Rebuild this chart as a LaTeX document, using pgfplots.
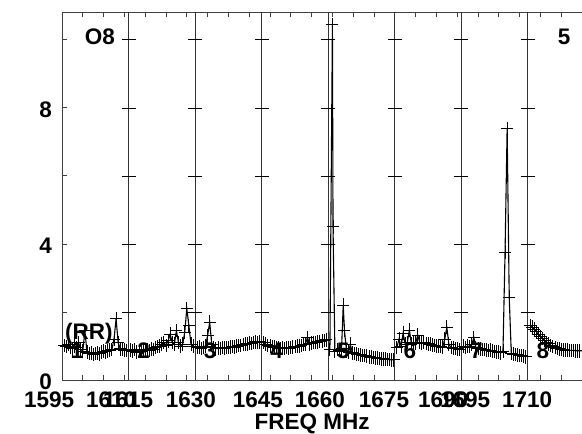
\documentclass[border=0pt]{standalone}
\usepackage{fontspec}
\setmainfont{Liberation Sans}
\usepackage{pgfplots}
\pgfplotsset{compat=1.18}
\newcommand\lf{\fontsize{22.5}{23}\selectfont\bfseries}
\pgfplotsset{
  spec/.style={black, line width=1.1pt, mark=-, mark size=6pt,
    mark options={line width=0.9pt},
    error bars/.cd, y dir=both, y fixed=0.2, error mark=none,
    error bar style={line width=0.9pt}},
}
\tikzset{
  fl/.style={font=\lf, anchor=base, inner sep=0pt, yshift=-28pt},
  pn/.style={font=\lf, anchor=base, inner sep=0pt},
}
\begin{document}
\begin{tikzpicture}
\begin{axis}[
  at={(62pt,54pt)}, anchor=south west,
  scale only axis, width=532.5pt, height=368pt,
  xmin=1600, xmax=1728, ymin=0, ymax=10.82,
  clip=false,
  axis line style={black!75, line width=0.9pt},
  tick align=inside,
  major tick length=5pt,
  tick style={black!75, line width=0.9pt},
  xtick={1600,1605,...,1725}, xticklabels={},
  ytick={0,2,...,10}, yticklabels={0,,4,,8,}, ytick pos=left,
  yticklabel style={font=\lf, inner sep=0pt, xshift=-10pt, yshift=-2pt},
]
% panel dividers and their cross ticks
\addplot[ycomb, black!80, line width=0.9pt, no marks] coordinates {
  (1616,10.82) (1632,10.82) (1648,10.82) (1664,10.82) (1680,10.82) (1696,10.82) (1712,10.82)};
\addplot[only marks, mark=-, mark size=7pt, black, mark options={line width=0.8pt}] coordinates {
  (1616,2) (1616,4) (1616,6) (1616,8) (1616,10)
  (1632,2) (1632,4) (1632,6) (1632,8) (1632,10)
  (1648,2) (1648,4) (1648,6) (1648,8) (1648,10)
  (1664,2) (1664,4) (1664,6) (1664,8) (1664,10)
  (1680,2) (1680,4) (1680,6) (1680,8) (1680,10)
  (1696,2) (1696,4) (1696,6) (1696,8) (1696,10)
  (1712,2) (1712,4) (1712,6) (1712,8) (1712,10)};

% IF 1
\addplot[spec] coordinates {
 (1600.5,1.02) (1601.0,0.98) (1601.5,1.05) (1602.0,0.95) (1602.5,0.92) (1603.0,1.00)
 (1603.5,0.95) (1604.0,1.10) (1604.5,0.90) (1605.0,0.85) (1605.5,1.45) (1606.0,0.82)
 (1606.5,0.78) (1607.0,0.80) (1607.5,0.75) (1608.0,0.78) (1608.5,0.80) (1609.0,0.77)
 (1609.5,0.82) (1610.0,0.85) (1610.5,0.83) (1611.0,0.86) (1611.5,0.88) (1612.0,0.90)
 (1612.5,1.20) (1613.0,1.80) (1613.5,1.10) (1614.0,0.92) (1614.5,0.90) (1615.0,0.88)
 (1615.5,0.87)};
% IF 2
\addplot[spec] coordinates {
 (1616.5,0.88) (1617.0,0.85) (1617.5,0.90) (1618.0,0.82) (1618.5,0.87) (1619.0,0.84)
 (1619.5,0.86) (1620.0,0.88) (1620.5,0.90) (1621.0,0.87) (1621.5,0.92) (1622.0,0.90)
 (1622.5,0.95) (1623.0,0.98) (1623.5,1.00) (1624.0,1.05) (1624.5,1.10) (1625.0,1.02)
 (1625.5,1.15) (1626.0,1.35) (1626.5,1.10) (1627.0,1.05) (1627.5,1.45) (1628.0,1.10)
 (1628.5,1.00) (1629.0,1.05) (1629.5,1.40) (1630.0,2.10) (1630.5,1.60) (1631.0,1.05)
 (1631.5,1.00)};
% IF 3
\addplot[spec] coordinates {
 (1632.5,0.95) (1633.0,0.97) (1633.5,0.93) (1634.0,0.95) (1634.5,1.00) (1635.0,1.30)
 (1635.5,1.70) (1636.0,1.05) (1636.5,0.95) (1637.0,0.92) (1637.5,0.94) (1638.0,0.93)
 (1638.5,0.95) (1639.0,0.94) (1639.5,0.96) (1640.0,0.95) (1640.5,0.97) (1641.0,0.98)
 (1641.5,0.97) (1642.0,1.00) (1642.5,1.02) (1643.0,1.01) (1643.5,1.04) (1644.0,1.05)
 (1644.5,1.06) (1645.0,1.08) (1645.5,1.07) (1646.0,1.10) (1646.5,1.12) (1647.0,1.10)
 (1647.5,1.12)};
% IF 4
\addplot[spec] coordinates {
 (1648.5,1.10) (1649.0,1.05) (1649.5,1.02) (1650.0,1.00) (1650.5,0.98) (1651.0,0.97)
 (1651.5,0.95) (1652.0,0.94) (1652.5,0.93) (1653.0,0.94) (1653.5,0.93) (1654.0,0.95)
 (1654.5,0.94) (1655.0,0.96) (1655.5,0.97) (1656.0,0.98) (1656.5,1.00) (1657.0,1.00)
 (1657.5,1.02) (1658.0,1.04) (1658.5,1.05) (1659.0,1.25) (1659.5,1.06) (1660.0,1.08)
 (1660.5,1.10) (1661.0,1.10) (1661.5,1.12) (1662.0,1.13) (1662.5,1.15) (1663.0,1.16)
 (1663.5,1.18)};
% IF 5
\addplot[spec] coordinates {
 (1664.4,0.90) (1665.0,10.44) (1665.15,4.50) (1665.6,0.85) (1666.2,0.90) (1666.7,0.88)
 (1667.2,0.92) (1667.6,2.20) (1667.9,1.45) (1668.4,0.85) (1668.9,0.82) (1669.3,1.05)
 (1669.8,0.80) (1670.3,0.78) (1670.8,0.76) (1671.3,0.75) (1671.8,0.74) (1672.3,0.72)
 (1672.8,0.72) (1673.3,0.70) (1673.8,0.68) (1674.3,0.67) (1674.8,0.66) (1675.3,0.65)
 (1675.8,0.64) (1676.3,0.63) (1676.8,0.62) (1677.3,0.62) (1677.8,0.61) (1678.3,0.60)
 (1678.8,0.60) (1679.3,0.59) (1679.7,0.59)};
% IF 6
\addplot[spec] coordinates {
 (1680.5,0.95) (1681.0,1.20) (1681.5,1.00) (1682.0,1.38) (1682.5,1.05) (1683.0,1.10)
 (1683.5,1.47) (1684.0,1.05) (1684.5,1.10) (1685.0,1.08) (1685.5,1.32) (1686.0,1.10)
 (1686.5,1.08) (1687.0,1.10) (1687.5,1.07) (1688.0,1.06) (1688.5,1.05) (1689.0,1.03)
 (1689.5,1.02) (1690.0,1.00) (1690.5,1.00) (1691.0,0.98) (1691.5,0.97) (1692.0,1.20)
 (1692.5,1.55) (1693.0,1.05) (1693.5,0.95) (1694.0,0.94) (1694.5,0.93) (1695.0,0.92)
 (1695.5,0.90)};
% IF 7
\addplot[spec] coordinates {
 (1696.5,1.00) (1697.0,0.95) (1697.5,1.00) (1698.0,0.98) (1698.5,1.05) (1699.0,1.25)
 (1699.5,0.95) (1700.0,0.93) (1700.5,0.92) (1701.0,0.90) (1701.5,0.90) (1702.0,0.88)
 (1702.5,0.87) (1703.0,0.88) (1703.5,0.85) (1704.0,0.84) (1704.5,0.83) (1705.0,0.82)
 (1705.5,0.80) (1706.0,0.85) (1706.5,3.76) (1707.0,7.40) (1707.5,2.44) (1708.0,0.78)
 (1708.5,0.76) (1709.0,0.75) (1709.5,0.74) (1710.0,0.72) (1710.5,0.72) (1711.0,0.70)
 (1711.5,0.68)};
% IF 8
\addplot[spec] coordinates {
 (1712.5,1.60) (1713.0,1.55) (1713.5,1.50) (1714.0,1.42) (1714.5,1.35) (1715.0,1.28)
 (1715.5,1.22) (1716.0,1.16) (1716.5,1.10) (1717.0,1.06) (1717.5,1.02) (1718.0,0.98)
 (1718.5,0.95) (1719.0,0.93) (1719.5,0.92) (1720.0,0.90) (1720.5,0.89) (1721.0,0.88)
 (1721.5,0.88) (1722.0,0.87) (1722.5,0.87) (1723.0,0.87) (1723.5,0.86) (1724.0,0.86)
 (1724.5,0.86) (1725.0,0.86) (1725.5,0.86) (1726.0,0.86) (1726.5,0.86) (1727.0,0.86)
 (1727.5,0.86)};

% frequency labels of each panel
\node[fl] at (axis cs:1596.9,0) {1595};
\node[fl] at (axis cs:1611.8,0) {1610};
\node[fl] at (axis cs:1615.9,0) {1615};
\node[fl] at (axis cs:1631.0,0) {1630};
\node[fl] at (axis cs:1647.1,0) {1645};
\node[fl] at (axis cs:1662.0,0) {1660};
\node[fl] at (axis cs:1677.4,0) {1675};
\node[fl] at (axis cs:1691.6,0) {1690};
\node[fl] at (axis cs:1696.9,0) {1695};
\node[fl] at (axis cs:1711.8,0) {1710};
\node[fl, yshift=-21.5pt] at (axis cs:1660.1,0) {FREQ MHz};
% panel numbers
\node[pn] at (axis cs:1603.6,0.62) {1};
\node[pn] at (axis cs:1619.6,0.62) {2};
\node[pn] at (axis cs:1635.6,0.62) {3};
\node[pn] at (axis cs:1651.6,0.62) {4};
\node[pn] at (axis cs:1667.6,0.62) {5};
\node[pn] at (axis cs:1683.6,0.62) {6};
\node[pn] at (axis cs:1699.6,0.62) {7};
\node[pn] at (axis cs:1715.6,0.62) {8};
\node[pn] at (axis cs:1609.1,9.85) {O8};
\node[pn] at (axis cs:1720.7,9.85) {5};
\node[pn, anchor=base west] at (axis cs:1600.7,1.2) {(RR)};
\end{axis}
\pgfresetboundingbox
\useasboundingbox (0,0) rectangle (582pt,434pt);
\end{tikzpicture}
\end{document}
